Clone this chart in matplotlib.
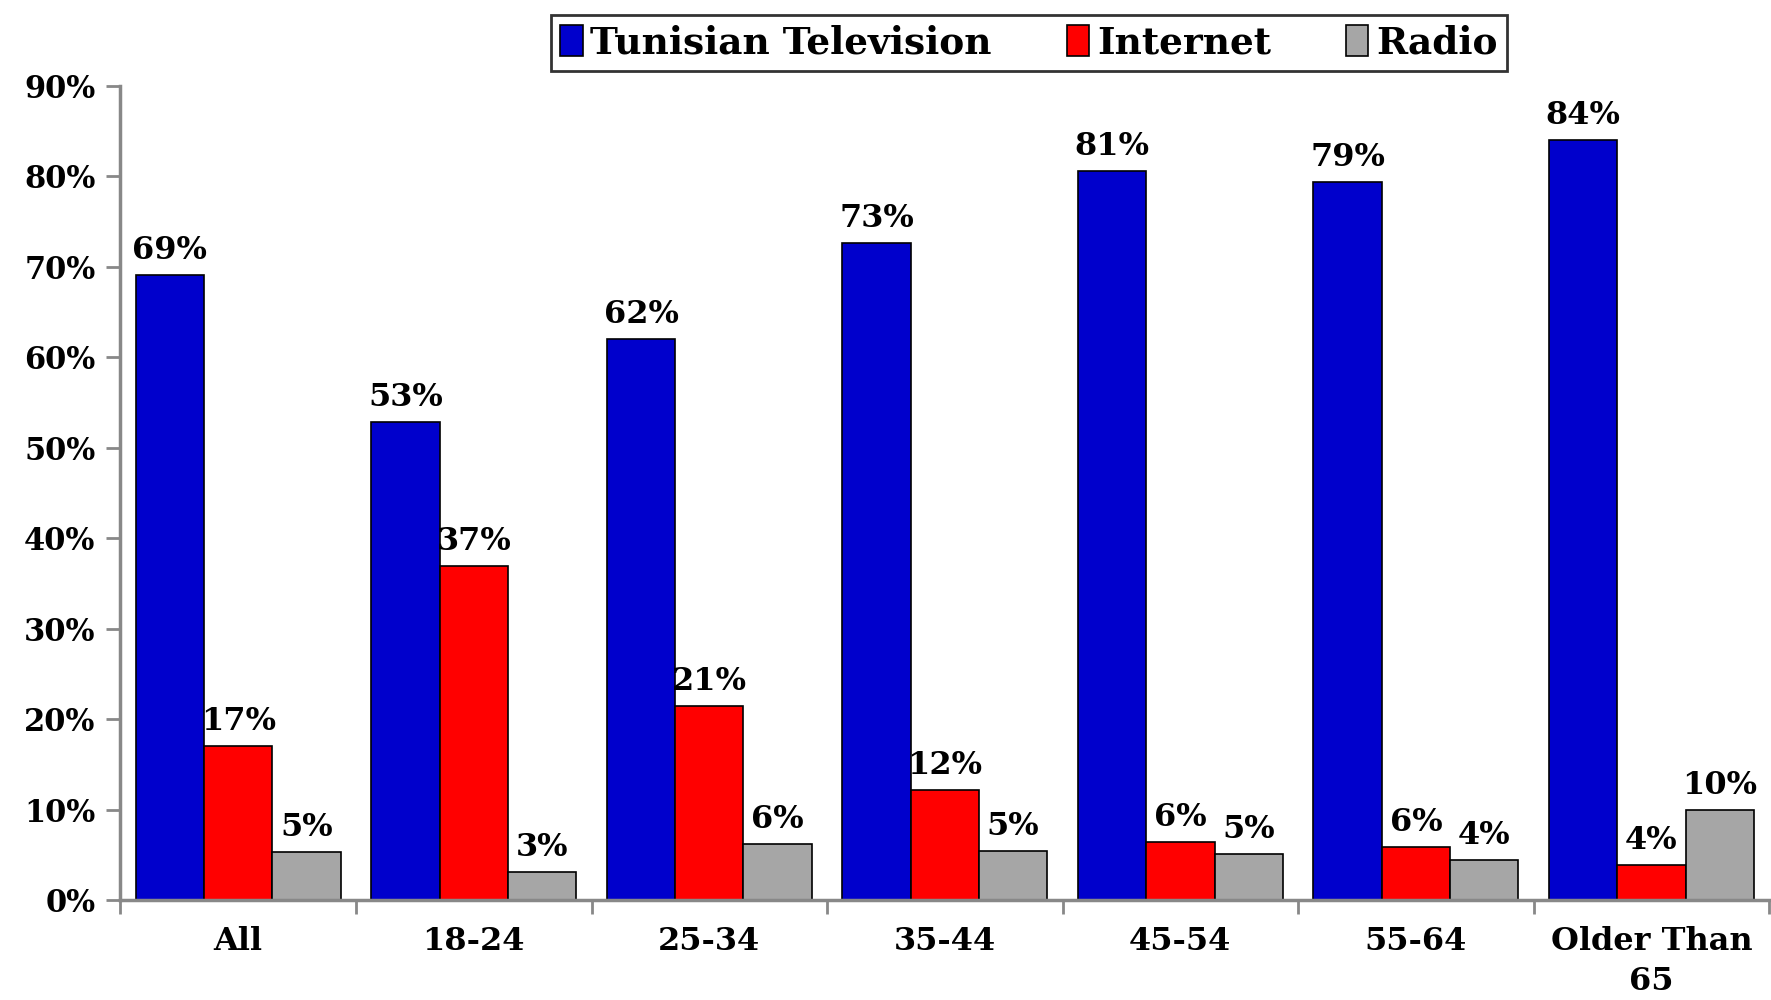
import matplotlib.pyplot as plt
import numpy as np

# age groups and share of respondents per source (%)
groups = ["All", "18-24", "25-34", "35-44", "45-54", "55-64", "Older Than\n65"]
tv = [69.1, 52.8, 62.0, 72.6, 80.6, 79.4, 84.0]
internet = [17.0, 36.9, 21.4, 12.2, 6.4, 5.9, 3.9]
radio = [5.3, 3.1, 6.2, 5.4, 5.1, 4.4, 10.0]
series = ["Tunisian Television", "Internet", "Radio"]
colors = ["#0000CC", "#FF0000", "#A6A6A6"]

plt.rcParams["font.family"] = ["DejaVu Serif"]
plt.rcParams["font.weight"] = "bold"

fig = plt.figure(figsize=(17.71, 10), dpi=100)
ax = fig.add_axes([0.068, 0.10, 0.931, 0.814])

x = np.arange(len(groups))
w = 0.29
for i, (vals, name, c) in enumerate(zip([tv, internet, radio], series, colors)):
    bars = ax.bar(x + (i - 1) * w, vals, w, color=c, edgecolor="black",
                  linewidth=1.2, label=name)
    for b, v in zip(bars, vals):
        ax.text(b.get_x() + b.get_width() / 2, v + 1.0, f"{round(v)}%",
                ha="center", va="bottom", fontsize=23, fontweight="bold")

ax.set_xlim(-0.5, len(groups) - 0.5)
ax.set_ylim(0, 90)
ax.set_yticks(np.arange(0, 91, 10))
ax.set_yticklabels([f"{t}%" for t in range(0, 91, 10)], fontsize=22, fontweight="bold")
ax.set_xticks(x)
ax.set_xticklabels(groups, fontsize=23, fontweight="bold", linespacing=1.35)
ax.set_xticks(np.arange(-0.5, len(groups), 1), minor=True)
ax.tick_params(axis="x", which="major", length=0, pad=19)
ax.tick_params(axis="x", which="minor", length=10, width=2, color="#888888")
ax.tick_params(axis="y", length=10, width=2, color="#888888", pad=8)

for s in ["top", "right"]:
    ax.spines[s].set_visible(False)
for s in ["left", "bottom"]:
    ax.spines[s].set_color("#888888")
    ax.spines[s].set_linewidth(2.5)

leg = fig.legend(loc="center", bbox_to_anchor=(0.581, 0.957), ncol=3,
                 frameon=True, fancybox=False, edgecolor="black",
                 handlelength=0.6, handleheight=0.9, handletextpad=0.2,
                 columnspacing=2.0, borderpad=0.25, borderaxespad=0.0,
                 prop={"weight": "bold", "size": 27})
leg.get_frame().set_linewidth(2)

fig.savefig("out.png", dpi=100)
